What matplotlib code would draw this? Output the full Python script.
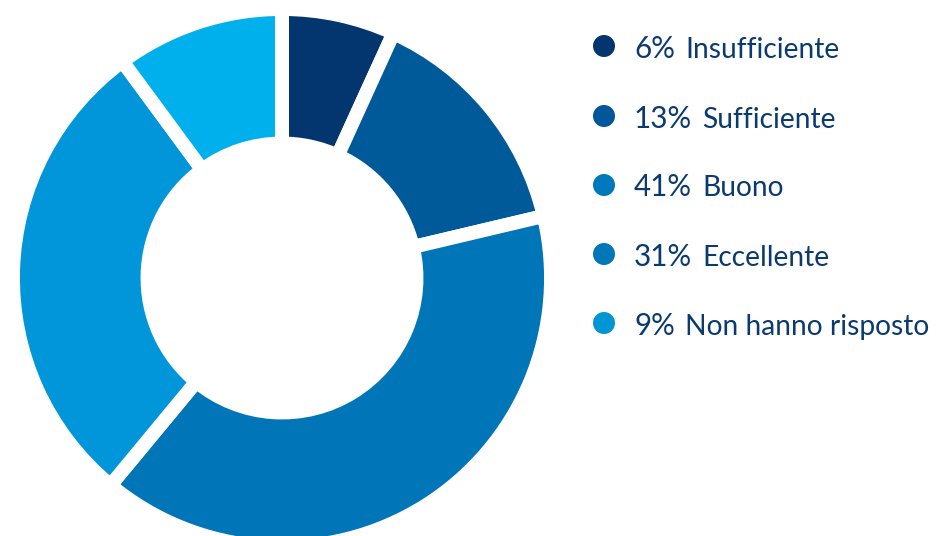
import matplotlib
matplotlib.use("Agg")
import matplotlib.pyplot as plt

categories = ["Insufficiente", "Sufficiente", "Buono", "Eccellente", "Non hanno risposto"]
pct_labels = [6, 13, 41, 31, 9]
# slice shares as drawn in the picture (measured from the arc angles)
slice_shares = [6.8, 14.5, 39.7, 28.9, 10.1]
slice_colors = ["#03366e", "#005a9a", "#0075b7", "#0096d9", "#00b0ec"]
dot_colors = ["#03366e", "#00589a", "#0078bc", "#0077b9", "#0096d6"]
text_color = "#0b3a6f"
FONT = "Lato"

W, H = 940, 536
fig = plt.figure(figsize=(W / 100, H / 100), dpi=100)

cx, cy, R = 282, 258, 269
ax = fig.add_axes([(cx - R) / W, (cy - R) / H, 2 * R / W, 2 * R / H])
ax.pie(slice_shares, colors=slice_colors, startangle=90, counterclock=False,
       radius=1.0,
       wedgeprops=dict(width=0.50, edgecolor="white", linewidth=10))
ax.set_xlim(-1, 1)
ax.set_ylim(-1, 1)
ax.set_aspect("equal")
ax.axis("off")

lax = fig.add_axes([0, 0, 1, 1])
lax.set_xlim(0, W)
lax.set_ylim(H, 0)
lax.axis("off")

fig.canvas.draw()
renderer = fig.canvas.get_renderer()


def fit_size(s, target_px, base=20):
    t = lax.text(0, 0, s, fontsize=base, family=FONT)
    w = t.get_window_extent(renderer=renderer).width
    t.remove()
    return base * target_px / w


num_fs = fit_size("13%", 58)
lab_fs = fit_size("Non hanno risposto", 244)

baselines = [58, 127.5, 196.5, 266, 335]
dot_ys = [46, 116, 185, 254, 323]
for cat, v, c, yb, yd in zip(categories, pct_labels, dot_colors, baselines, dot_ys):
    lax.scatter([604], [yd], s=251, color=c, edgecolors="none")
    t = lax.text(634, yb, f"{v}%", fontsize=num_fs, color=text_color,
                 family=FONT, va="baseline", ha="left")
    bb = t.get_window_extent(renderer=renderer)
    lax.text(bb.x1 + 10, yb, cat, fontsize=lab_fs, color=text_color,
             family=FONT, va="baseline", ha="left")

fig.savefig("out.png", dpi=100, facecolor="white")
